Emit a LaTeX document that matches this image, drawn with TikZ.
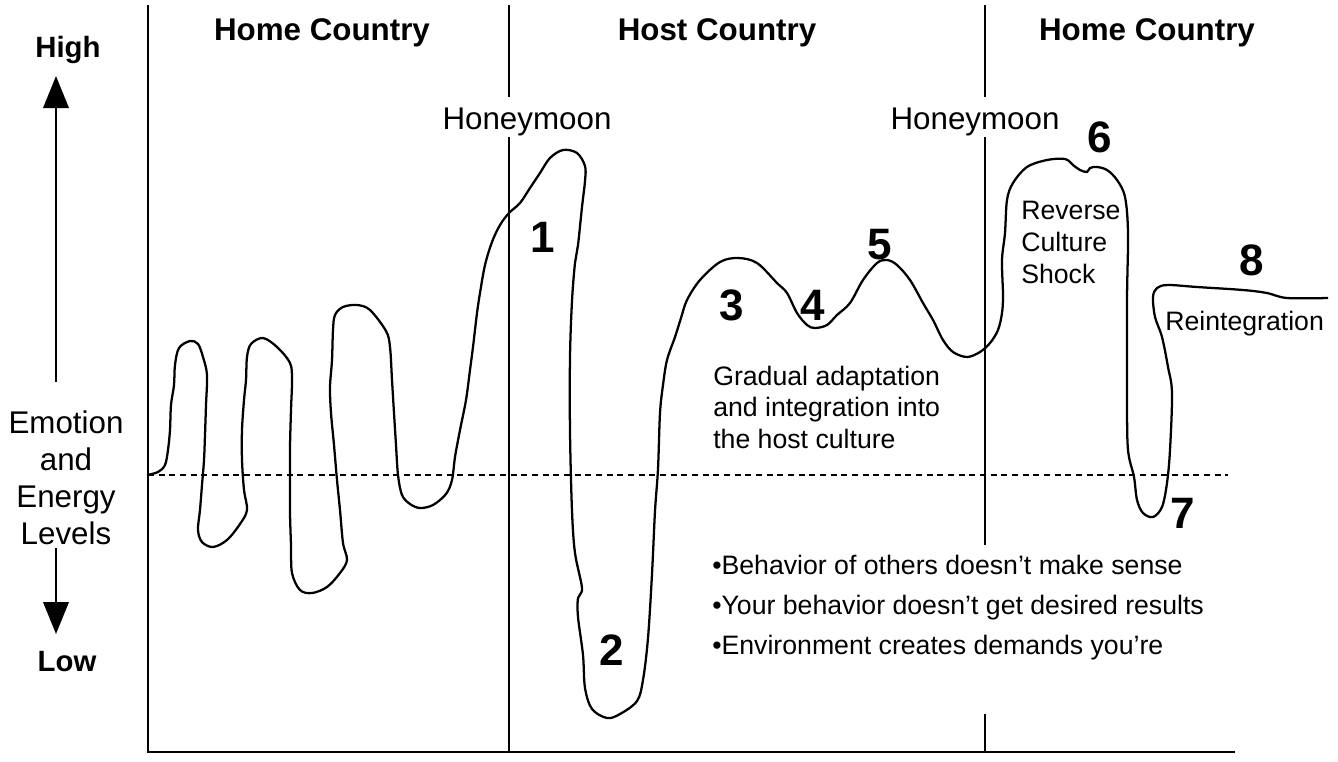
\documentclass[tikz,border=0pt]{standalone}
\usepackage{fontspec}
\setmainfont{Liberation Sans}
\usetikzlibrary{positioning, arrows.meta}

\begin{document}
\begin{tikzpicture}[x=0.75pt, y=-0.75pt,
	mainaxis/.style={line width=1.6pt},
	divider/.style={line width=1.3pt},
	zeroline/.style={line width=1.4pt, dash pattern=on 4.5pt off 3.5pt},
	curve/.style={line width=1.7pt, line join=round},
	bigarrow/.style={line width=2pt, -{Triangle[length=24pt, width=19pt]}},
	head/.style={anchor=base, font=\fontsize{23.5}{28}\selectfont\bfseries},
	bigtext/.style={anchor=base, font=\fontsize{23.5}{28}\selectfont},
	note/.style={anchor=base west, inner sep=0pt, font=\fontsize{20}{24}\selectfont},
	num/.style={font=\fontsize{33}{40}\selectfont\bfseries}]
	\useasboundingbox (0,0) rectangle (1338,761);

	% axes, dividers, zero line
	\draw[mainaxis] (148,5) -- (148,752) -- (1235,752);
	\draw[divider] (509,5) -- (509,97) (509,137) -- (509,752);
	\draw[divider] (985,5) -- (985,97) (985,137) -- (985,545) (985,714) -- (985,752);
	\draw[zeroline] (148,475) -- (1228,475);

	\node[head] (home1) at (322,40) {Home Country};
	\node[head] (host) at (717,40) {Host Country};
	\node[head] (home2) at (1147,40) {Home Country};
	\node[bigtext] (honey1) at (527,129) {Honeymoon};
	\node[bigtext] (honey2) at (975,129) {Honeymoon};

	% vertical scale on the left
	\node[head, font=\fontsize{22}{26}\selectfont\bfseries] (high) at (68,57) {High};
	\node[head, font=\fontsize{22}{26}\selectfont\bfseries] (low) at (67,671) {Low};
	\foreach \w [count=\i] in {Emotion, and, Energy, Levels} {
		\node[bigtext] (emo\i) at (66,396+37*\i) {\w};
	}
	\coordinate (upfoot) at (56,382);
	\coordinate (uptip) at (56,76);
	\coordinate (downfoot) at (56,548);
	\coordinate (downtip) at (56,634);
	\draw[bigarrow] (upfoot) -- (uptip);
	\draw[bigarrow] (downfoot) -- (downtip);

	\draw[curve] plot[smooth, tension=0.55] coordinates {
		(147,475) (158,472) (165,465) (168,450) (170,430) (171,405) (174,385) (175,365) (179,348) (190,341)
		(198,344) (203,357) (207,375) (206,405) (205,435) (204,460) (202,485) (200,510) (198,530) (202,542)
		(213,547) (227,540) (240,524) (247,510) (244,490) (242,460) (242,430) (244,400) (246,380) (247,357)
		(251,344) (263,338) (277,347) (290,363) (292,380) (291,410) (290,447) (290,480) (290,513) (291,545)
		(292,573) (300,590) (312,593) (327,587) (340,573) (347,560) (343,543) (340,510) (337,480) (334,445)
		(331,413) (330,387) (332,360) (333,330) (335,315) (343,307) (357,305) (370,310) (386,331) (390,347)
		(392,380) (394,413) (396,445) (398,475) (402,495) (410,504) (420,508) (433,505) (446,494) (452,480)
		(455,457) (460,430) (466,400) (470,370) (473,347) (477,313) (480,293) (485,265) (492,242) (500,225)
		(509,213) (520,203) (530,188) (540,173) (550,158) (563,150) (577,153) (585,166) (585,181) (582,207)
		(578,245) (575,263) (572,301) (570,357) (570,432) (572,511) (575,553) (582,588) (578,598) (578,617)
		(583,655) (585,688) (592,709) (607,718) (620,714) (637,701) (643,680) (648,638) (652,574) (655,511)
		(658,469) (660,413) (663,385) (667,360) (675,337) (681,318) (687,300) (700,280) (720,262) (738,258)
		(757,263) (777,283) (787,293) (797,313) (807,325) (815,328) (827,325) (837,315) (850,303) (863,280)
		(877,263) (887,260) (897,265) (910,280) (923,303) (933,320) (943,340) (953,352) (967,357) (980,352)
		(990,343) (998,330) (1002,313) (1003,295) (1002,260) (1005,233) (1007,200) (1013,183) (1027,167) (1047,160)
		(1065,159) (1073,165) (1080,170) (1087,172) (1090,168) (1097,167) (1107,170) (1117,180) (1125,197) (1128,233)
		(1127,300) (1127,400) (1128,450) (1134,477) (1137,500) (1143,513) (1153,517) (1162,507) (1167,483) (1170,450)
		(1172,393) (1168,367) (1162,337) (1155,317) (1153,297) (1157,288) (1168,285) (1197,287) (1243,290) (1267,293)
		(1287,298) (1328,298)};

	% stage numbers
	\foreach \n/\x/\y in {1/543/237, 2/612/650, 3/732/305, 4/813/305, 5/880/245, 6/1100/137, 7/1183/513, 8/1252/260} {
		\node[num] (stage\n) at (\x,\y) {\n};
	}

	\foreach \w [count=\i] in {Gradual adaptation, and integration into, the host culture} {
		\node[note] (adapt\i) at (713,353.5+31.5*\i) {\w};
	}
	\foreach \w [count=\i] in {Reverse, Culture, Shock} {
		\node[note] (shock\i) at (1021,187+32*\i) {\w};
	}
	\node[note] (reint) at (1165,330) {Reintegration};

	\node[note] (bullet1) at (712,574) {•Behavior of others doesn’t make sense};
	\node[note] (bullet2) at (712,614) {•Your behavior doesn’t get desired results};
	\node[note] (bullet3) at (712,654) {•Environment creates demands you’re};
\end{tikzpicture}
\end{document}
